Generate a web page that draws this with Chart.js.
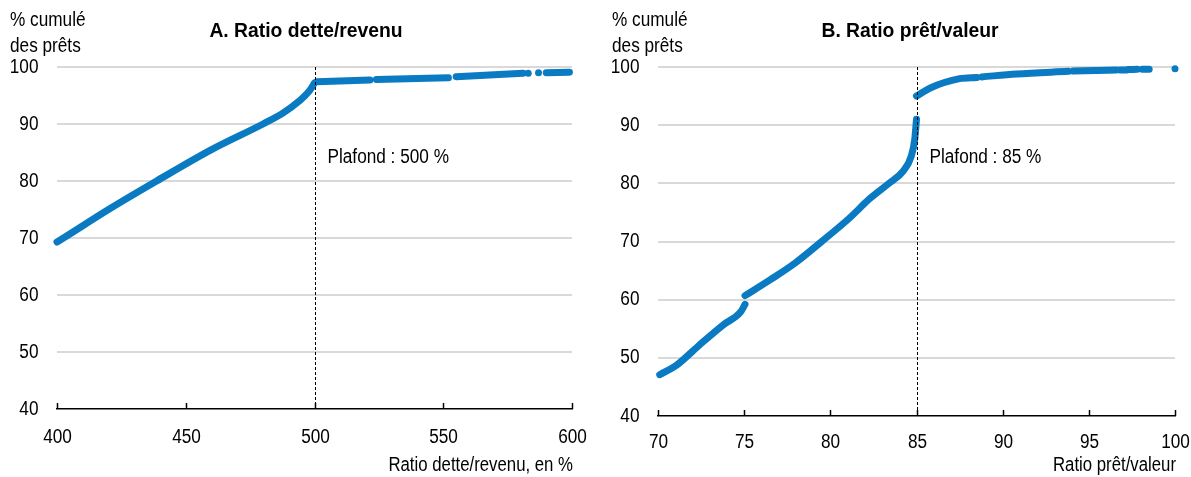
<!DOCTYPE html>
<html>
<head>
<meta charset="utf-8">
<script src="https://cdn.jsdelivr.net/npm/chart.js@4"></script>
<style>
  body { margin: 0; background: #fff; }
  #wrap { position: relative; width: 1191px; height: 477px; }
  canvas { position: absolute; top: 0; }
  #chartA { left: 0; }
  #chartB { left: 596px; }
</style>
</head>
<body>
<div id="wrap">
  <canvas id="chartA" width="595" height="477"></canvas>
  <canvas id="chartB" width="595" height="477"></canvas>
</div>
<script>
// Panel A: debt-to-income, cumulative share of loans
const dtiTicks = [400, 450, 500, 550, 600];
const dtiCap = 500;
const dtiBelowCap = [[400, 69.3], [402.5, 70], [420, 75], [438.7, 80], [460, 85.5], [480, 90],
  [488, 92], [494, 94], [498, 95.8], [500, 97.2]];
const dtiAbove1 = [[501, 97.4], [521.5, 97.7]];
const dtiAbove2 = [[524, 97.8], [552, 98.1]];
const dtiAbove3 = [[555, 98.3], [581, 98.9]];
const dtiAbove4 = [[590, 99.0], [599, 99.1]];
const dtiDots = [[583, 98.9], [587, 99.0]];

// Panel B: loan-to-value
const ltvTicks = [70, 75, 80, 85, 90, 95, 100];
const ltvCap = 85;
const ltvBelow75 = [[70.1, 47.1], [71.1, 48.8], [72.4, 52.2], [73.8, 55.7], [74.8, 57.9], [75.05, 59.2]];
const ltvBelowCap = [[75.05, 60.7], [76.5, 63.4], [78, 66.4], [79.5, 70], [81.1, 74], [82.3, 77.4],
  [83.4, 80], [84.2, 82], [84.7, 84.7], [84.9, 87.6], [85, 91.0]];
const ltvAbove1 = [[85, 95.0], [85.8, 96.4], [87.5, 98.0], [88.5, 98.2]];
const ltvAbove2 = [[88.8, 98.3], [90.8, 98.8], [93.8, 99.25]];
const ltvAbove3 = [[94.1, 99.3], [95.4, 99.4]];
const ltvAbove4 = [[95.5, 99.4], [96.6, 99.5]];
const ltvAbove5 = [[96.8, 99.5], [97.2, 99.5]];
const ltvAbove6 = [[97.3, 99.55], [97.8, 99.6]];
const ltvAbove7 = [[98.1, 99.6], [98.5, 99.6]];
const ltvDots = [[100, 99.7]];

const blue = '#0a7bc2';
const font = "'Liberation Sans', Arial, sans-serif";
const narrow = 0.86;

const toPts = arr => arr.map(p => ({ x: p[0], y: p[1] }));

function lineSet(arr) {
  return {
    data: toPts(arr), showLine: true, borderColor: blue, backgroundColor: blue,
    borderWidth: 7, borderCapStyle: 'round', borderJoinStyle: 'round',
    pointRadius: 0, cubicInterpolationMode: 'monotone', clip: false
  };
}
function dotSet(arr) {
  return { data: toPts(arr), showLine: false, backgroundColor: blue, borderColor: blue,
    pointRadius: 3.5, borderWidth: 0, clip: false };
}

// condensed text (the original uses a narrow face)
function txt(c, s, x, y, align, size, bold, sx) {
  c.save();
  c.translate(x, y);
  c.scale(sx || narrow, 1);
  c.font = (bold ? 'bold ' : '') + size + 'px ' + font;
  c.textAlign = align;
  c.textBaseline = 'middle';
  c.fillStyle = '#000';
  c.fillText(s, 0, 0);
  c.restore();
}

function panelPlugin(o) {
  return {
    id: 'panel',
    afterDraw(chart) {
      const c = chart.ctx, x = chart.scales.x, y = chart.scales.y, area = chart.chartArea;
      c.save();
      // small tick marks pointing up from the axis
      c.strokeStyle = '#000';
      c.lineWidth = 1.5;
      o.ticks.forEach(t => {
        const px = Math.round(x.getPixelForValue(t)) + 0.5;
        c.beginPath(); c.moveTo(px, area.bottom); c.lineTo(px, area.bottom - 6); c.stroke();
        txt(c, String(t), px, area.bottom + o.xLabelOff, 'center', 20);
      });
      y.ticks.forEach(t => {
        txt(c, String(t.value), area.left - 18.5, y.getPixelForValue(t.value), 'right', 20);
      });
      // cap line
      const cx = Math.round(x.getPixelForValue(o.cap)) + 0.5;
      c.lineWidth = 1;
      c.setLineDash([3, 2]);
      c.beginPath(); c.moveTo(cx, area.top); c.lineTo(cx, area.bottom); c.stroke();
      c.restore();
      // texts
      txt(c, '% cumulé', o.yTitleX, 20, 'left', 20);
      txt(c, 'des prêts', o.yTitleX, 46, 'left', 20);
      txt(c, o.capLabel, cx + 12, 157, 'left', 20);
      txt(c, o.xTitle, area.right + 1, o.xTitleY, 'right', 19.5);
      txt(c, o.title, o.titleX, 31, 'center', 21, true, 0.92);
    }
  };
}

function makeChart(id, o) {
  return new Chart(document.getElementById(id), {
    type: 'scatter',
    data: { datasets: o.datasets },
    options: {
      responsive: false,
      animation: false,
      layout: { padding: { top: 67, right: o.padRight, left: 0, bottom: 0 } },
      plugins: { legend: { display: false }, tooltip: { enabled: false } },
      scales: {
        x: {
          type: 'linear', min: o.ticks[0], max: o.ticks[o.ticks.length - 1],
          afterBuildTicks: s => { s.ticks = o.ticks.map(v => ({ value: v })); },
          afterFit: s => { s.height = o.xHeight; },
          grid: { display: true, drawOnChartArea: false, drawTicks: false },
          border: { display: true, color: '#000', width: 1.5 },
          ticks: { display: false }
        },
        y: {
          min: 40, max: 100,
          ticks: { stepSize: 10, display: false },
          afterFit: s => { s.width = o.yWidth; },
          grid: { color: ctx => ctx.tick && ctx.tick.value === 40 ? 'rgba(0,0,0,0)' : '#d9d9d9',
            lineWidth: 2, drawTicks: false },
          border: { display: false }
        }
      }
    },
    plugins: [panelPlugin(o)]
  });
}

makeChart('chartA', {
  ticks: dtiTicks, cap: dtiCap, padRight: 23, xHeight: 68, yWidth: 57, xLabelOff: 28,
  title: 'A. Ratio dette/revenu', titleX: 306, yTitleX: 10,
  capLabel: 'Plafond : 500 %', xTitle: 'Ratio dette/revenu, en %', xTitleY: 466,
  datasets: [lineSet(dtiBelowCap), lineSet(dtiAbove1), lineSet(dtiAbove2), lineSet(dtiAbove3),
    lineSet(dtiAbove4), dotSet(dtiDots)]
});

makeChart('chartB', {
  ticks: ltvTicks, cap: ltvCap, padRight: 16, xHeight: 61, yWidth: 62, xLabelOff: 26,
  title: 'B. Ratio prêt/valeur', titleX: 314, yTitleX: 16,
  capLabel: 'Plafond : 85 %', xTitle: 'Ratio prêt/valeur', xTitleY: 466,
  datasets: [lineSet(ltvBelow75), lineSet(ltvBelowCap), lineSet(ltvAbove1), lineSet(ltvAbove2),
    lineSet(ltvAbove3), lineSet(ltvAbove4), lineSet(ltvAbove5), lineSet(ltvAbove6), lineSet(ltvAbove7),
    dotSet(ltvDots)]
});
</script>
</body>
</html>
